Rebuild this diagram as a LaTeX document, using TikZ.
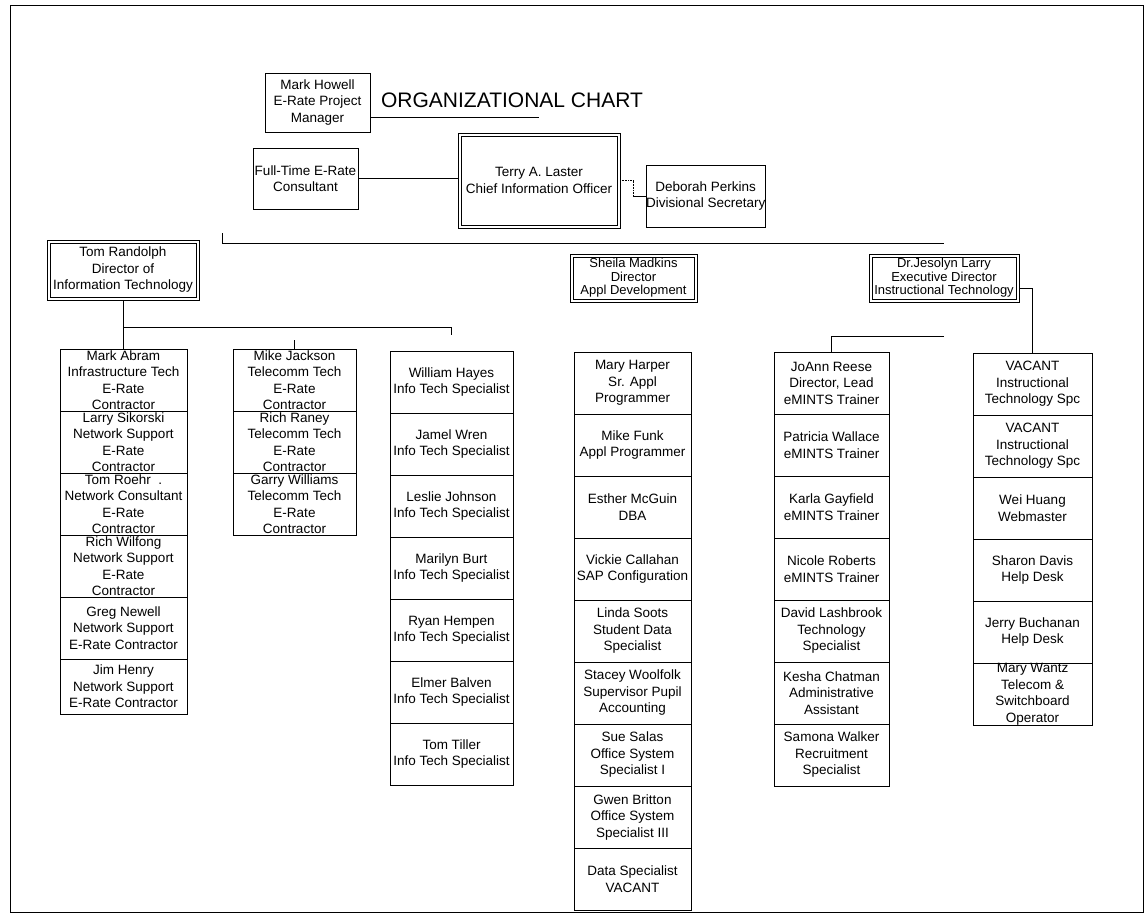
\documentclass[tikz,border=0pt]{standalone}
\usepackage{fontspec}
\setmainfont{Liberation Sans}
\usetikzlibrary{positioning}

\newcommand\chartfont{\fontsize{13.5}{16.5}\selectfont}
\newcommand\headfont{\fontsize{13}{13.6}\selectfont}

\tikzset{
  box/.style={draw, line width=0.7pt, inner sep=0pt, outer sep=0pt, anchor=north west, align=center, font=\chartfont},
  head/.style={box, path picture={\draw[line width=0.7pt] ([shift={(3pt,-3pt)}]path picture bounding box.north west) rectangle ([shift={(-3pt,3pt)}]path picture bounding box.south east);}},
  cell/.style={draw, line width=0.7pt, inner sep=0pt, outer sep=0pt, minimum width=#1, minimum height=62pt},
  txt/.style={align=center, inner sep=0pt, font=\chartfont},
  link/.style={line width=0.6pt}
}

\begin{document}
\begin{tikzpicture}[x=1pt, y=-1pt]

  \useasboundingbox (0,0) rectangle (1145,915);

  % Frame
  \draw[line width=0.9pt] (10,5) rectangle (1143,912);

  % Title
  \node[font=\fontsize{21}{25}\selectfont] (title) at (512,100) {ORGANIZATIONAL CHART};

  % Top level
  \node[box, minimum width=105pt, minimum height=59pt] (mh) at (265,73) {Mark Howell\\E-Rate Project\\Manager};
  \node[box, minimum width=105pt, minimum height=61pt] (ft) at (253,148) {Full-Time E-Rate\\Consultant};
  \node[head, minimum width=162pt, minimum height=95pt] (cio) at (458,133) {Terry A. Laster\\Chief Information Officer};
  \node[box, minimum width=116pt, minimum height=62pt] (sec) at (646,165) {Deborah Perkins\\Divisional Secretary};

  \draw[link] ([yshift=-15pt]mh.east) -- ([yshift=-15pt]mh.east -| cio.north);
  \draw[link] (ft.east) -- (ft.east -| cio.west);
  \draw[link, densely dotted] (cio.east) -| ([xshift=-13pt]sec.west);
  \draw[link] (sec.west) -- ++(-13,0);

  % Directors
  \node[head, minimum width=152pt, minimum height=60pt] (trd) at (47,240) {Tom Randolph\\Director of\\Information Technology};
  \node[head, minimum width=127pt, minimum height=48pt, font=\headfont] (smd) at (570,254) {Sheila Madkins\\Director\\Appl Development};
  \node[head, minimum width=150pt, minimum height=48pt, font=\headfont] (jes) at (869,254) {Dr.Jesolyn Larry\\Executive Director\\Instructional Technology};

  \coordinate (busL) at (222,243);
  \draw[link] ([yshift=10pt]busL) -- (busL) -- (busL -| jes.north);

  % Information Technology, column 1
  \node[cell=127pt, anchor=north west] (ma) at (60,349) {};
  \node[cell=127pt, below=0pt of ma] (ls) {};
  \node[cell=127pt, below=0pt of ls] (tr) {};
  \node[cell=127pt, below=0pt of tr] (rw) {};
  \node[cell=127pt, below=0pt of rw] (gn) {};
  \node[cell=127pt, minimum height=55pt, below=0pt of gn] (jh) {};
  \node[txt] (ma-t) at (ma) {Mark Abram\\Infrastructure Tech\\E-Rate\\Contractor};
  \node[txt] (ls-t) at (ls) {Larry Sikorski\\Network Support\\E-Rate\\Contractor};
  \node[txt] (tr-t) at (tr) {Tom Roehr\ \ .\\Network Consultant\\E-Rate\\Contractor};
  \node[txt] (rw-t) at (rw) {Rich Wilfong\\Network Support\\E-Rate\\Contractor};
  \node[txt] (gn-t) at (gn) {Greg Newell\\Network Support\\E-Rate Contractor};
  \node[txt] (jh-t) at (jh) {Jim Henry\\Network Support\\E-Rate Contractor};

  % column 2
  \node[cell=123pt, anchor=north west] (mj) at (233,349) {};
  \node[cell=123pt, below=0pt of mj] (rr) {};
  \node[cell=123pt, below=0pt of rr] (gw) {};
  \node[txt] (mj-t) at (mj) {Mike Jackson\\Telecomm Tech\\E-Rate\\Contractor};
  \node[txt] (rr-t) at (rr) {Rich Raney\\Telecomm Tech\\E-Rate\\Contractor};
  \node[txt] (gw-t) at (gw) {Garry Williams\\Telecomm Tech\\E-Rate\\Contractor};

  % column 3
  \node[cell=123pt, anchor=north west] (wh) at (390,351) {};
  \node[cell=123pt, below=0pt of wh] (jw) {};
  \node[cell=123pt, below=0pt of jw] (lj) {};
  \node[cell=123pt, below=0pt of lj] (mb) {};
  \node[cell=123pt, below=0pt of mb] (rh) {};
  \node[cell=123pt, below=0pt of rh] (eb) {};
  \node[cell=123pt, below=0pt of eb] (tt) {};
  \node[txt] (wh-t) at (wh) {William Hayes\\Info Tech Specialist};
  \node[txt] (jw-t) at (jw) {Jamel Wren\\Info Tech Specialist};
  \node[txt] (lj-t) at (lj) {Leslie Johnson\\Info Tech Specialist};
  \node[txt] (mb-t) at (mb) {Marilyn Burt\\Info Tech Specialist};
  \node[txt] (rh-t) at (rh) {Ryan Hempen\\Info Tech Specialist};
  \node[txt] (eb-t) at (eb) {Elmer Balven\\Info Tech Specialist};
  \node[txt] (tt-t) at (tt) {Tom Tiller\\Info Tech Specialist};

  \draw[link] (trd.south) -- (trd.south |- 0,327) -| ([yshift=16pt]wh.north);
  \draw[link] (ma.north) -- (ma.north |- 0,327);
  \draw[link] (mj.north) -- ([yshift=9pt]mj.north);

  % Appl Development
  \node[cell=117pt, anchor=north west] (mhp) at (574,352) {};
  \node[cell=117pt, below=0pt of mhp] (mf) {};
  \node[cell=117pt, below=0pt of mf] (em) {};
  \node[cell=117pt, below=0pt of em] (vc) {};
  \node[cell=117pt, below=0pt of vc] (lso) {};
  \node[cell=117pt, below=0pt of lso] (sw) {};
  \node[cell=117pt, below=0pt of sw] (ss) {};
  \node[cell=117pt, below=0pt of ss] (gb) {};
  \node[cell=117pt, below=0pt of gb] (ds) {};
  \node[txt] (mhp-t) at (mhp) {Mary Harper\\Sr. Appl\\Programmer};
  \node[txt] (mf-t) at (mf) {Mike Funk\\Appl Programmer};
  \node[txt] (em-t) at (em) {Esther McGuin\\DBA};
  \node[txt] (vc-t) at (vc) {Vickie Callahan\\SAP Configuration};
  \node[txt] (lso-t) at (lso) {Linda Soots\\Student Data\\Specialist};
  \node[txt] (sw-t) at (sw) {Stacey Woolfolk\\Supervisor Pupil\\Accounting};
  \node[txt] (ss-t) at (ss) {Sue Salas\\Office System\\Specialist I};
  \node[txt] (gb-t) at (gb) {Gwen Britton\\Office System\\Specialist III};
  \node[txt] (ds-t) at (ds) {Data Specialist\\VACANT};

  % Instructional Technology, column 5
  \node[cell=115pt, anchor=north west] (jr) at (774,352) {};
  \node[cell=115pt, below=0pt of jr] (pw) {};
  \node[cell=115pt, below=0pt of pw] (kg) {};
  \node[cell=115pt, below=0pt of kg] (nr) {};
  \node[cell=115pt, below=0pt of nr] (dl) {};
  \node[cell=115pt, below=0pt of dl] (kc) {};
  \node[cell=115pt, below=0pt of kc] (swk) {};
  \node[txt] (jr-t) at (jr) {JoAnn Reese\\Director, Lead\\eMINTS Trainer};
  \node[txt] (pw-t) at (pw) {Patricia Wallace\\eMINTS Trainer};
  \node[txt] (kg-t) at (kg) {Karla Gayfield\\eMINTS Trainer};
  \node[txt] (nr-t) at (nr) {Nicole Roberts\\eMINTS Trainer};
  \node[txt] (dl-t) at (dl) {David Lashbrook\\Technology\\Specialist};
  \node[txt] (kc-t) at (kc) {Kesha Chatman\\Administrative\\Assistant};
  \node[txt] (swk-t) at (swk) {Samona Walker\\Recruitment\\Specialist};

  % column 6
  \node[cell=119pt, anchor=north west] (v1) at (973,353) {};
  \node[cell=119pt, below=0pt of v1] (v2) {};
  \node[cell=119pt, below=0pt of v2] (wh2) {};
  \node[cell=119pt, below=0pt of wh2] (sd) {};
  \node[cell=119pt, below=0pt of sd] (jb) {};
  \node[cell=119pt, below=0pt of jb] (mw) {};
  \node[txt] (v1-t) at (v1) {VACANT\\Instructional\\Technology Spc};
  \node[txt] (v2-t) at (v2) {VACANT\\Instructional\\Technology Spc};
  \node[txt] (wh2-t) at (wh2) {Wei Huang\\Webmaster};
  \node[txt] (sd-t) at (sd) {Sharon Davis\\Help Desk};
  \node[txt] (jb-t) at (jb) {Jerry Buchanan\\Help Desk};
  \node[txt] (mw-t) at (mw) {Mary Wantz\\Telecom \&\\Switchboard\\Operator};

  \draw[link] ([yshift=-10pt]jes.east) -| (v1.north);
  \draw[link] ([yshift=-34pt]jes.south) -| (jr.north);

\end{tikzpicture}
\end{document}
